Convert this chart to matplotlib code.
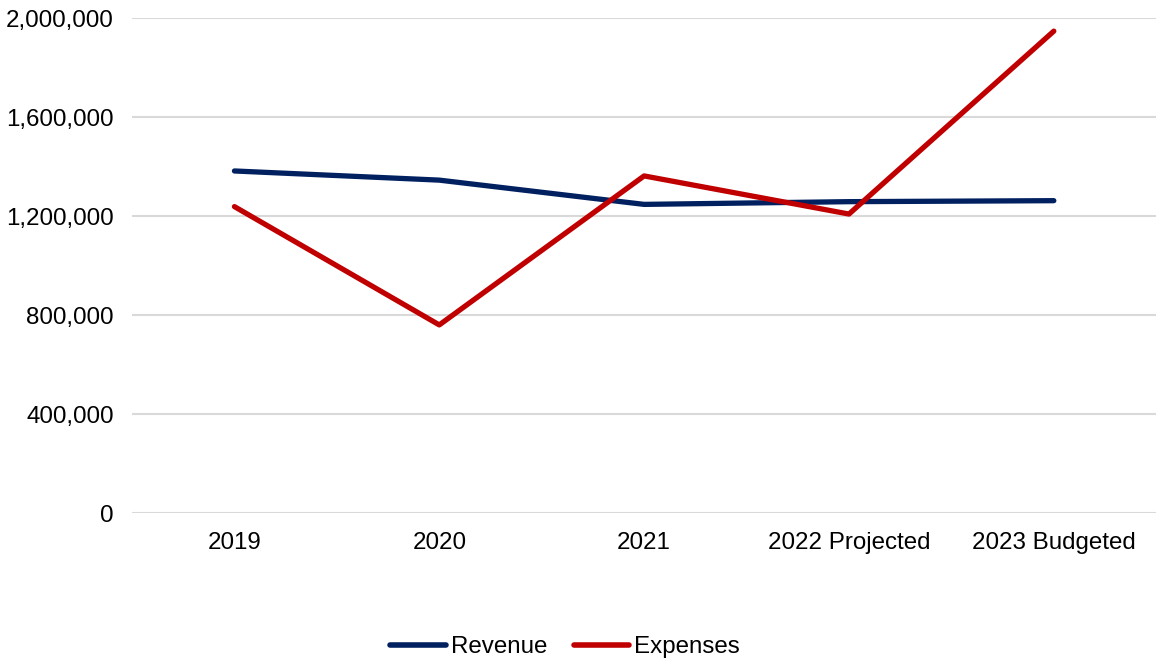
import matplotlib.pyplot as plt
from matplotlib.ticker import FuncFormatter
from matplotlib.lines import Line2D

plt.rcParams["font.family"] = ["Liberation Sans", "DejaVu Sans"]

years = ["2019", "2020", "2021", "2022 Projected", "2023 Budgeted"]
revenue = [1382000, 1345000, 1247000, 1258000, 1262000]
expenses = [1238000, 760000, 1362000, 1208000, 1947000]

NAVY = "#002060"
RED = "#C00000"
GRID = "#D9D9D9"
FS = 17.4

fig = plt.figure(figsize=(11.56, 6.60), dpi=100)
ax = fig.add_axes([0.1142, 0.2227, 0.886, 0.75])

x = range(len(years))
ax.plot(x, revenue, color=NAVY, lw=3.8, solid_capstyle="round",
        solid_joinstyle="round", label="Revenue", zorder=3)
ax.plot(x, expenses, color=RED, lw=3.8, solid_capstyle="round",
        solid_joinstyle="round", label="Expenses", zorder=3)

ax.set_xlim(-0.5, len(years) - 0.5)
ax.set_ylim(0, 2000000)
ax.set_yticks(range(0, 2000001, 400000))
ax.yaxis.set_major_formatter(FuncFormatter(lambda v, _: f"{int(v):,}"))
ax.set_xticks(list(x))
ax.set_xticklabels(years)

ax.grid(axis="y", color=GRID, lw=1.5)
ax.set_axisbelow(True)
for s in ax.spines.values():
    s.set_visible(False)
ax.tick_params(axis="both", length=0, labelsize=FS, colors="#000000")
ax.tick_params(axis="x", pad=14)
ax.tick_params(axis="y", pad=13)

handles = [Line2D([], [], color=NAVY, lw=4, solid_capstyle="round"),
           Line2D([], [], color=RED, lw=4, solid_capstyle="round")]
fig.legend(handles, ["Revenue", "Expenses"], loc="center",
           bbox_to_anchor=(565 / 1156, 1 - 647 / 660), ncol=2, frameon=False,
           fontsize=FS, handlelength=2.3, handletextpad=0.2, columnspacing=1.1)

fig.savefig("out.png", dpi=100, facecolor="white")
